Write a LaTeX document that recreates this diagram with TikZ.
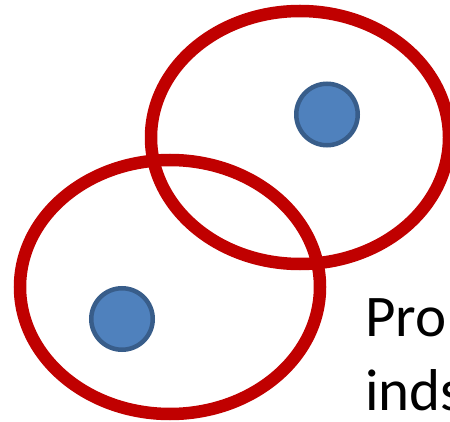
\documentclass[tikz,border=0pt]{standalone}
\usepackage{fontspec}
\setmainfont{Carlito}
\definecolor{ringred}{HTML}{C00000}
\definecolor{dotfill}{HTML}{4F81BD}
\definecolor{dotline}{HTML}{385D8A}
\begin{document}
\begin{tikzpicture}[x=1pt,y=-1pt,
  ring/.style={draw=ringred,line width=12.5pt},
  dot/.style={circle,draw=dotline,fill=dotfill,line width=4.5pt,minimum size=61.5pt,inner sep=0pt},
  label/.style={anchor=base west,inner sep=0pt,font=\fontsize{59}{64}\selectfont}]
\useasboundingbox (0,0) rectangle (450,422);
\clip (0,0) rectangle (450,422);
\fill[white] (0,0) rectangle (450,422);
\draw[ring] (300,137.5) ellipse [x radius=149, y radius=126.5];
\draw[ring] (170,287) ellipse [x radius=150, y radius=127];
\node[dot] (d1) at (327,114.5) {};
\node[dot] (d2) at (122,319) {};
\node[label] (t1) at (365,336.5) {Pro};
\node[label] (t2) at (365,410) {inds};
\end{tikzpicture}
\end{document}
